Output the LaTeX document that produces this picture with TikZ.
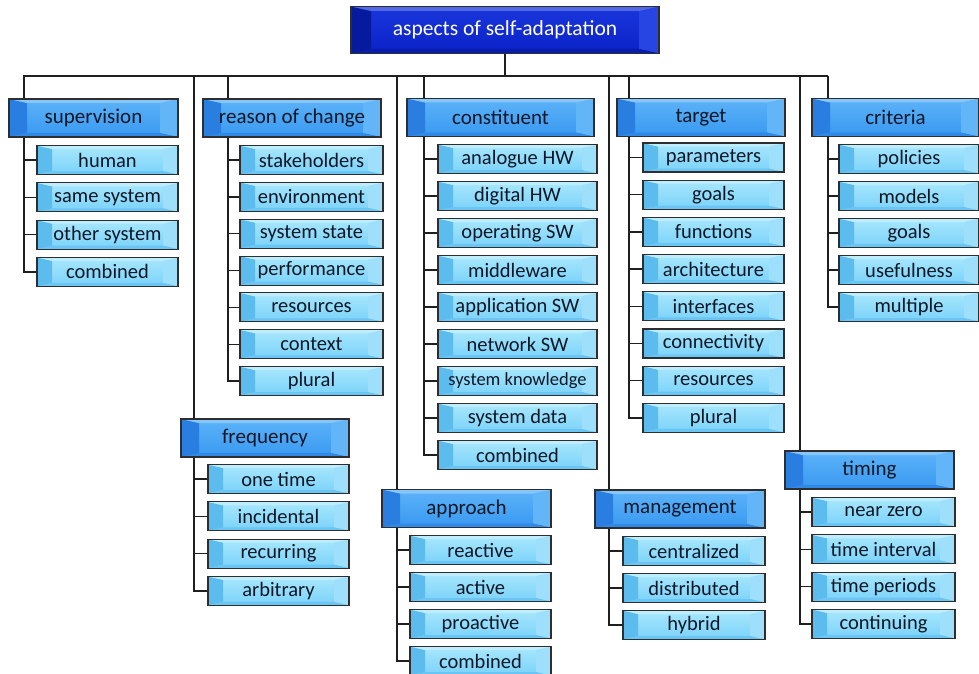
\documentclass[tikz,border=0pt]{standalone}
\usepackage{fontspec}
\setmainfont{Carlito}
\definecolor{chM}{HTML}{7AD2F9}
\definecolor{chT}{HTML}{A8E7FD}
\definecolor{chL}{HTML}{5DBCEE}
\definecolor{chR}{HTML}{9EE0FB}
\definecolor{caM}{HTML}{3898F1}
\definecolor{caT}{HTML}{5DB3F8}
\definecolor{caL}{HTML}{2A7EE0}
\definecolor{caR}{HTML}{62B6F8}
\definecolor{roM}{HTML}{0A22C6}
\definecolor{roT}{HTML}{1A36DC}
\definecolor{roL}{HTML}{061A9E}
\definecolor{roR}{HTML}{2645E2}
\definecolor{edge}{HTML}{2E2E2E}
\definecolor{txt}{HTML}{0E1726}
\tikzset{
  bevel/.style n args={6}{top color=#2, bottom color=#1,
    path picture={
      \fill[#3] (path picture bounding box.south west) -- (path picture bounding box.north west)
        -- ([shift={(#5,-#6)}]path picture bounding box.north west) -- ([shift={(#5,#6)}]path picture bounding box.south west) -- cycle;
      \fill[#4] (path picture bounding box.north east) -- (path picture bounding box.south east)
        -- ([shift={(-#5,#6)}]path picture bounding box.south east) -- ([shift={(-#5,-#6)}]path picture bounding box.north east) -- cycle;
      \fill[#2!75!white] (path picture bounding box.north west) -- (path picture bounding box.north east)
        -- ([shift={(-#5,-#6)}]path picture bounding box.north east) -- ([shift={(#5,-#6)}]path picture bounding box.north west) -- cycle;
      \fill[#3!60!#1] (path picture bounding box.south west) -- (path picture bounding box.south east)
        -- ([shift={(-#5,#6)}]path picture bounding box.south east) -- ([shift={(#5,#6)}]path picture bounding box.south west) -- cycle;
    }},
  basebox/.style={draw=edge, line width=1.1pt, inner sep=0pt, text=txt},
  kid/.style={basebox, bevel={chM}{chT}{chL}{chR}{15pt}{3.5pt}, minimum height=29pt,
    font=\fontsize{20.5}{22}\selectfont},
  cat/.style={basebox, bevel={caM}{caT}{caL}{caR}{18pt}{4pt}, minimum height=38pt,
    font=\fontsize{21}{23}\selectfont},
  rootbox/.style={basebox, bevel={roM}{roT}{roL}{roR}{20pt}{4.5pt}, minimum height=47pt,
    text=white, font=\fontsize{21.5}{23}\selectfont},
  conn/.style={draw=black!88, line width=1.3pt}
}
\begin{document}
\begin{tikzpicture}[x=1pt,y=-1pt]
\useasboundingbox (0,0) rectangle (979,674);
\fill[white] (0,0) rectangle (979,674);
% root
\node[rootbox, minimum width=308pt] (root) at (505,30) {aspects of self-adaptation};
% bus coordinates
\coordinate (busL) at (23,76);
\coordinate (busR) at (828,76);
\coordinate (xsup) at (24,76);
\coordinate (xfre) at (194,76);
\coordinate (xrea) at (228,76);
\coordinate (xapp) at (397,76);
\coordinate (xcon) at (424,76);
\coordinate (xman) at (609,76);
\coordinate (xtar) at (629,76);
\coordinate (xtim) at (800,76);
\coordinate (xcri) at (828,76);
% categories
\node[cat, minimum width=169pt] (sup) at (93.5,118) {supervision};
\node[cat, minimum width=178pt] (rea) at (292,118) {reason of change};
\node[cat, minimum width=187pt] (con) at (500.5,117.5) {constituent};
\node[cat, minimum width=168pt] (tar) at (701,117.5) {target};
\node[cat, minimum width=167pt] (cri) at (895.5,117.5) {criteria};
\node[cat, minimum width=168pt] (fre) at (265,438) {frequency};
\node[cat, minimum width=169pt] (app) at (466.5,508.5) {approach};
\node[cat, minimum width=170pt] (man) at (680,509) {management};
\node[cat, minimum width=169pt] (tim) at (869.5,470) {timing};
% children
\foreach \t [count=\i] in {human,same system,other system,combined}
  \node[kid, minimum width=141pt] (sup\i) at (107.5,{160+(\i-1)*37.3}) {\t};
\foreach \t [count=\i] in {stakeholders,environment,system state,performance,resources,context,plural}
  \node[kid, minimum width=143pt] (rea\i) at (311.5,{160+(\i-1)*36.85}) {\t};
\foreach \t [count=\i] in {analogue HW,digital HW,operating SW,middleware,application SW,network SW,{\fontsize{18.5}{20}\selectfont system knowledge},system data,combined}
  \node[kid, minimum width=159pt] (con\i) at (517.5,{159+(\i-1)*37}) {\t};
\foreach \t [count=\i] in {parameters,goals,functions,architecture,interfaces,connectivity,resources,plural}
  \node[kid, minimum width=141pt] (tar\i) at (713.5,{157.5+(\i-1)*37.2}) {\t};
\foreach \t [count=\i] in {policies,models,goals,usefulness,multiple}
  \node[kid, minimum width=140pt] (cri\i) at (909,{159+(\i-1)*37}) {\t};
\foreach \t [count=\i] in {one time,incidental,recurring,arbitrary}
  \node[kid, minimum width=141pt] (fre\i) at (278.5,{479+(\i-1)*37.3}) {\t};
\foreach \t [count=\i] in {reactive,active,proactive,combined}
  \node[kid, minimum width=141pt] (app\i) at (480.5,{550+(\i-1)*37}) {\t};
\foreach \t [count=\i] in {centralized,distributed,hybrid}
  \node[kid, minimum width=142pt] (man\i) at (694,{551+(\i-1)*37}) {\t};
\foreach \t [count=\i] in {near zero,time interval,time periods,continuing}
  \node[kid, minimum width=143pt] (tim\i) at (883.5,{512+(\i-1)*37.3}) {\t};
% connectors: root to bus
\draw[conn] (root.south) -- (root.south |- busL);
\draw[conn] (busL) -- (busR);
% bus to categories
\foreach \c/\x in {sup/xsup,fre/xfre,rea/xrea,app/xapp,con/xcon,man/xman,tar/xtar,tim/xtim,cri/xcri}
  \draw[conn] (\x) -- (\x |- \c.north);
% categories to children
\foreach \i in {1,...,4} \draw[conn] (xsup |- sup.south) |- (sup\i.west);
\foreach \i in {1,...,7} \draw[conn] (xrea |- rea.south) |- (rea\i.west);
\foreach \i in {1,...,9} \draw[conn] (xcon |- con.south) |- (con\i.west);
\foreach \i in {1,...,8} \draw[conn] (xtar |- tar.south) |- (tar\i.west);
\foreach \i in {1,...,5} \draw[conn] (xcri |- cri.south) |- (cri\i.west);
\foreach \i in {1,...,4} \draw[conn] (xfre |- fre.south) |- (fre\i.west);
\foreach \i in {1,...,4} \draw[conn] (xapp |- app.south) |- (app\i.west);
\foreach \i in {1,...,3} \draw[conn] (xman |- man.south) |- (man\i.west);
\foreach \i in {1,...,4} \draw[conn] (xtim |- tim.south) |- (tim\i.west);
\end{tikzpicture}
\end{document}
